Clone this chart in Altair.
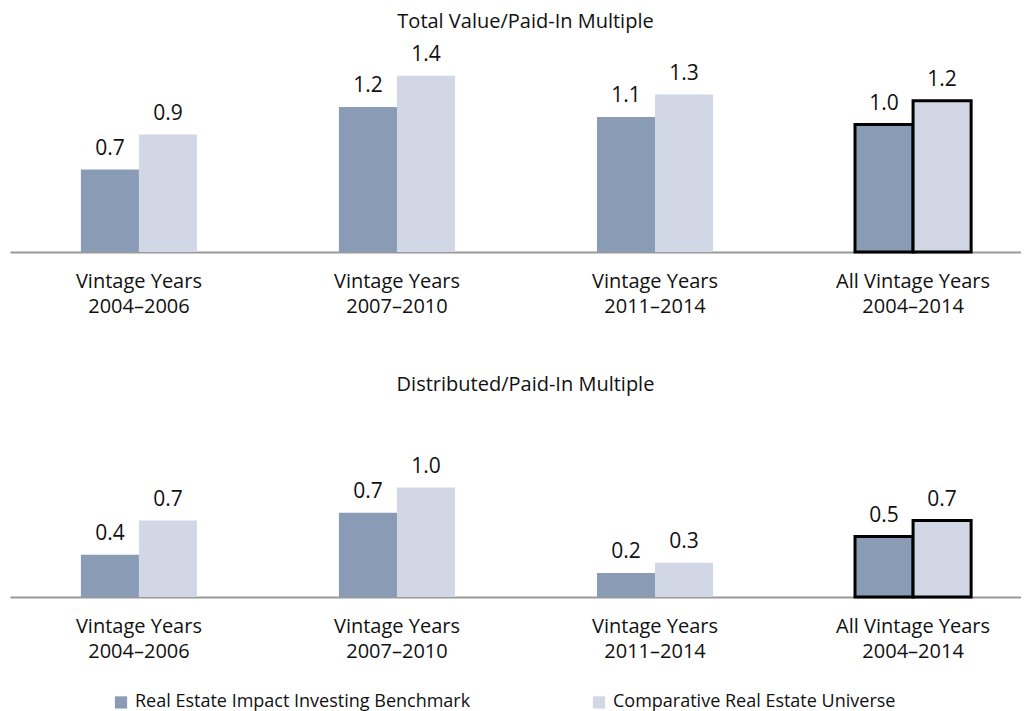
import altair as alt
import pandas as pd

groups = ["Vintage Years|2004–2006", "Vintage Years|2007–2010",
          "Vintage Years|2011–2014", "All Vintage Years|2004–2014"]
series = ["Real Estate Impact Investing Benchmark", "Comparative Real Estate Universe"]
tvpi_benchmark = [0.66, 1.16, 1.08, 1.02]
tvpi_universe = [0.94, 1.41, 1.26, 1.21]
dpi_benchmark = [0.37, 0.74, 0.21, 0.53]
dpi_universe = [0.67, 0.96, 0.30, 0.67]
highlight_group = "All Vintage Years|2004–2014"
colors = ["#8a9bb6", "#d1d7e5"]
titles = ["Total Value/Paid-In Multiple", "Distributed/Paid-In Multiple"]

FONT = "Open Sans"


def make_df(bench, univ):
    rows = []
    for g, vb, vu in zip(groups, bench, univ):
        rows.append({"group": g, "series": series[0], "value": vb, "hl": g == highlight_group})
        rows.append({"group": g, "series": series[1], "value": vu, "hl": g == highlight_group})
    return pd.DataFrame(rows)


def panel(df, title, height, ymax, title_offset):
    x = alt.X("group:N", sort=groups, title=None,
              scale=alt.Scale(paddingInner=0.55, paddingOuter=0.234, align=0.587),
              axis=alt.Axis(labelExpr="split(datum.label, '|')", labelAngle=0, ticks=False,
                            labelPadding=19, labelFontSize=20, labelLineHeight=25,
                            labelColor="#111111", domainColor="#999999", domainWidth=2,
                            labelFont=FONT, grid=False))
    xo = alt.XOffset("series:N", sort=series, scale=alt.Scale(paddingInner=0, paddingOuter=0))
    y = alt.Y("value:Q", scale=alt.Scale(domain=[0, ymax]), axis=None)
    base = alt.Chart(df).encode(x=x, xOffset=xo, y=y)
    bars = base.mark_bar().encode(
        color=alt.Color("series:N", sort=series,
                        scale=alt.Scale(domain=series, range=colors),
                        legend=alt.Legend(title=None, orient="none", direction="horizontal",
                                          legendX=102, legendY=661,
                                          symbolType="square", symbolSize=150,
                                          labelFontSize=18, labelFont=FONT, labelColor="#111111",
                                          labelLimit=0, columnPadding=118, labelOffset=5)),
        stroke=alt.condition("datum.hl", alt.value("#000000"), alt.value("transparent")),
        strokeWidth=alt.condition("datum.hl", alt.value(3), alt.value(0)),
    )
    labels = base.mark_text(baseline="bottom", dy=-11, fontSize=21, font=FONT,
                            color="#111111").encode(text=alt.Text("value:Q", format=".1f"))
    return alt.layer(bars, labels).properties(
        width=1011, height=height,
        title=alt.TitleParams(title, fontSize=20, font=FONT, fontWeight="normal",
                              color="#111111", offset=title_offset, dx=10))


top = panel(make_df(tvpi_benchmark, tvpi_universe), titles[0], 220, 1.76, 0)
bottom = panel(make_df(dpi_benchmark, dpi_universe), titles[1], 192, 192 / 114, 10)

chart = alt.vconcat(top, bottom, spacing=59).properties(
    padding={"left": 2, "top": 4, "right": 0, "bottom": 0}
).configure_view(stroke=None)

chart.save("out.html", embed_options={"renderer": "svg", "actions": False})
